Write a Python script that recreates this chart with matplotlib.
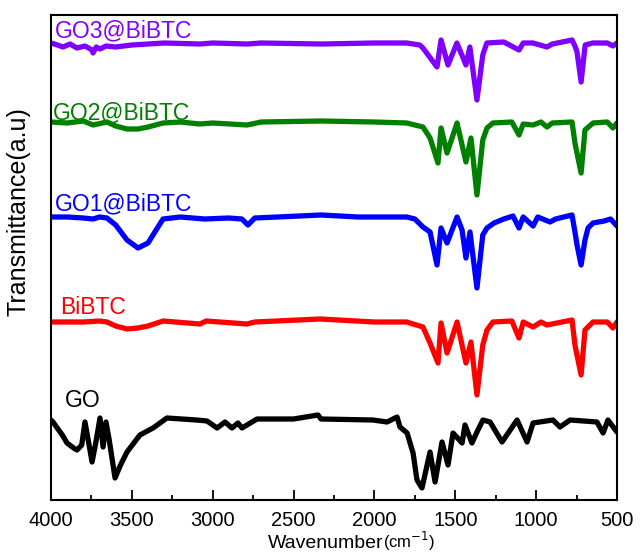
import numpy as np
import matplotlib.pyplot as plt

plt.rcParams['font.family'] = ['Liberation Sans', 'DejaVu Sans']

# wavenumber (cm-1) / transmittance (a.u., stacked as drawn)
go3_wn = [4000, 3960, 3926, 3882, 3840, 3790, 3746, 3740, 3720, 3697, 3660, 3600, 3500, 3300,
          3079, 3000, 2788, 2700, 2330, 2000, 1800, 1720, 1700, 1613, 1588, 1545, 1490, 1434,
          1410, 1366, 1330, 1305, 1200, 1106, 1080, 1020, 933, 900, 778, 760, 747, 722, 697,
          650, 560, 525, 500]
go3_t = [457, 455, 453, 456, 452, 454, 450, 447, 453, 451, 454, 453, 455, 457,
         456, 457, 456, 457, 456, 457, 457, 455, 452, 433, 460, 435, 457, 435,
         453, 400, 445, 457, 458, 450, 457, 457, 453, 456, 460, 454, 448, 418, 455,
         457, 457, 454, 457]

go2_wn = [4000, 3900, 3800, 3740, 3654, 3600, 3530, 3462, 3400, 3307, 3200, 3079, 3000, 2788,
          2700, 2330, 2000, 1800, 1700, 1656, 1607, 1588, 1551, 1489, 1434, 1403, 1366, 1330,
          1304, 1267, 1150, 1106, 1080, 1019, 970, 933, 900, 778, 760, 722, 698, 648, 560,
          525, 500]
go2_t = [378, 377, 379, 375, 378, 374, 371, 371, 373, 377, 378, 376, 377, 375,
         378, 379, 378, 377, 373, 362, 337, 372, 347, 377, 338, 362, 305, 360,
         372, 377, 378, 365, 376, 375, 378, 373, 377, 378, 357, 327, 370, 377, 378,
         372, 377]

go1_wn = [4000, 3900, 3800, 3740, 3700, 3654, 3600, 3530, 3462, 3400, 3350, 3307, 3200, 3050,
          2900, 2820, 2782, 2740, 2600, 2330, 2100, 1800, 1750, 1700, 1656, 1613, 1588, 1551,
          1489, 1458, 1434, 1409, 1366, 1330, 1304, 1260, 1200, 1143, 1106, 1080, 1019, 990,
          914, 880, 778, 760, 747, 722, 698, 679, 648, 580, 540, 500]
go1_t = [283, 283, 282, 281, 283, 282, 275, 260, 252, 257, 270, 281, 283, 281,
         282, 281, 275, 282, 283, 285, 283, 283, 281, 273, 268, 235, 272, 257,
         283, 270, 242, 268, 212, 265, 272, 277, 281, 284, 272, 283, 274, 283,
         278, 281, 285, 268, 255, 235, 260, 272, 277, 279, 281, 274]

bibtc_wn = [4000, 3800, 3700, 3654, 3600, 3530, 3462, 3400, 3307, 3079, 3040, 2788, 2740, 2337,
            2000, 1800, 1700, 1656, 1607, 1588, 1551, 1489, 1434, 1403, 1366, 1330, 1304, 1267,
            1150, 1106, 1080, 1019, 970, 933, 778, 760, 722, 698, 648, 560, 525, 500]
bibtc_t = [178, 178, 179, 178, 174, 171, 172, 174, 179, 176, 179, 176, 178, 181,
           178, 178, 173, 157, 137, 177, 147, 178, 137, 158, 105, 155, 170, 178,
           179, 162, 178, 173, 178, 175, 180, 155, 125, 170, 178, 178, 172, 178]

go_wn = [4000, 3988, 3930, 3901, 3860, 3839, 3810, 3790, 3770, 3746, 3720, 3697, 3678, 3660,
         3640, 3604, 3570, 3530, 3450, 3369, 3283, 3100, 3035, 2973, 2924, 2881, 2844, 2819,
         2726, 2500, 2349, 2330, 2009, 1922, 1860, 1842, 1798, 1761, 1737, 1706, 1656, 1625,
         1582, 1545, 1514, 1458, 1440, 1397, 1366, 1329, 1285, 1211, 1118, 1056, 1019, 896,
         853, 790, 624, 586, 556, 500]
go_t = [80, 78, 65, 57, 52, 50, 55, 78, 60, 38, 60, 82, 53, 78,
        60, 22, 35, 48, 65, 72, 82, 80, 79, 72, 78, 72, 77, 72,
        81, 81, 85, 81, 80, 78, 83, 73, 67, 47, 20, 12, 48, 18,
        58, 35, 67, 57, 75, 57, 68, 80, 78, 58, 80, 58, 77, 80,
        73, 80, 78, 67, 80, 68]

names = ['GO', 'BiBTC', 'GO1@BiBTC', 'GO2@BiBTC', 'GO3@BiBTC']
colors = ['black', '#ff0000', '#0000ff', '#008000', '#8000ff']
series_wn = [go_wn, bibtc_wn, go1_wn, go2_wn, go3_wn]
series_t = [go_t, bibtc_t, go1_t, go2_t, go3_t]
label_pos = [(3913, 93), (3944, 186), (3975, 290), (3988, 381), (3975, 463)]

fig = plt.figure(figsize=(6.4, 5.52), dpi=100)
ax = fig.add_axes([51/640, 52/552, 566/640, 485/552])

for wn, t, c, name, (lx, ly) in zip(series_wn, series_t, colors, names, label_pos):
    ax.plot(wn, t, color=c, lw=3.8, solid_joinstyle='round', solid_capstyle='round')
    ax.text(lx, ly, name, color=c, fontsize=16.5, va='baseline', ha='left')

ax.set_xlim(4000, 500)
ax.set_ylim(0, 485)
ax.set_xticks(np.arange(4000, 499, -500))
ax.set_xticks(np.arange(3750, 500, -500), minor=True)
ax.tick_params(axis='x', which='major', direction='in', length=7, width=1.3, labelsize=14.5, pad=8)
ax.tick_params(axis='x', which='minor', direction='in', length=3.5, width=1.3)
ax.set_yticks([])
for s in ax.spines.values():
    s.set_linewidth(1.5)

ax.set_ylabel('Transmittance(a.u)', fontsize=18)
ax.yaxis.set_label_coords(-0.036, 0.595)
fig.text(268/640, 1 - 548/552, 'Wavenumber', fontsize=14, va='baseline', ha='left')
fig.text(383/640, 1 - 548/552, '(cm$^{-1}$)', fontsize=12, va='baseline', ha='left')

fig.savefig('out.png', dpi=100)
